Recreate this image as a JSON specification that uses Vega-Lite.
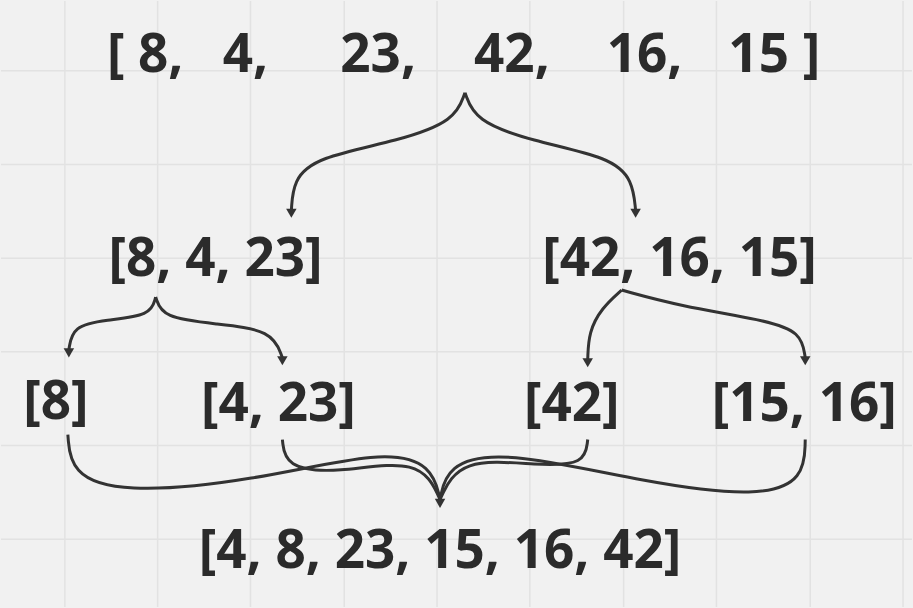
{
  "$schema": "https://vega.github.io/schema/vega-lite/v6.json",
  "autosize": {"type": "fit", "contains": "padding"},
  "width": 913,
  "height": 608,
  "padding": 0,
  "background": "#f1f1f1",
  "config": {"view": {"stroke": null}},
  "datasets": {
    "vgrid": [{"x": 64}, {"x": 157}, {"x": 250}, {"x": 344}, {"x": 437}, {"x": 530}, {"x": 624}, {"x": 717}, {"x": 811}, {"x": 904}],
    "hgrid": [{"y": 70}, {"y": 164}, {"y": 258}, {"y": 352}, {"y": 446}, {"y": 540}],
    "labels": [
      {"t": "[", "x": 115, "y": 55},
      {"t": "8,", "x": 160, "y": 55},
      {"t": "4,", "x": 245, "y": 55},
      {"t": "23,", "x": 378, "y": 55},
      {"t": "42,", "x": 512, "y": 55},
      {"t": "16,", "x": 645, "y": 55},
      {"t": "15 ]", "x": 775, "y": 55},
      {"t": "[8, 4, 23]", "x": 215, "y": 260},
      {"t": "[42, 16, 15]", "x": 680, "y": 260},
      {"t": "[8]", "x": 55, "y": 403},
      {"t": "[4, 23]", "x": 278, "y": 405},
      {"t": "[42]", "x": 572, "y": 405},
      {"t": "[15, 16]", "x": 805, "y": 405},
      {"t": "[4, 8, 23, 15, 16, 42]", "x": 440, "y": 553}
    ],
    "curves": [
      {"id": 1, "o": 1, "x": 465, "y": 92}, {"id": 1, "o": 2, "x": 455, "y": 120}, {"id": 1, "o": 3, "x": 400, "y": 140}, {"id": 1, "o": 4, "x": 315, "y": 157}, {"id": 1, "o": 5, "x": 293, "y": 180}, {"id": 1, "o": 6, "x": 291, "y": 210},
      {"id": 2, "o": 1, "x": 465, "y": 92}, {"id": 2, "o": 2, "x": 475, "y": 120}, {"id": 2, "o": 3, "x": 530, "y": 140}, {"id": 2, "o": 4, "x": 612, "y": 157}, {"id": 2, "o": 5, "x": 633, "y": 180}, {"id": 2, "o": 6, "x": 636, "y": 210},
      {"id": 3, "o": 1, "x": 155, "y": 297}, {"id": 3, "o": 2, "x": 150, "y": 316}, {"id": 3, "o": 3, "x": 105, "y": 320}, {"id": 3, "o": 4, "x": 72, "y": 326}, {"id": 3, "o": 5, "x": 68, "y": 350},
      {"id": 4, "o": 1, "x": 155, "y": 297}, {"id": 4, "o": 2, "x": 162, "y": 318}, {"id": 4, "o": 3, "x": 215, "y": 324}, {"id": 4, "o": 4, "x": 272, "y": 330}, {"id": 4, "o": 5, "x": 282, "y": 358},
      {"id": 5, "o": 1, "x": 622, "y": 290}, {"id": 5, "o": 2, "x": 602, "y": 308}, {"id": 5, "o": 3, "x": 589, "y": 332}, {"id": 5, "o": 4, "x": 588, "y": 360},
      {"id": 6, "o": 1, "x": 622, "y": 290}, {"id": 6, "o": 2, "x": 680, "y": 306}, {"id": 6, "o": 3, "x": 765, "y": 320}, {"id": 6, "o": 4, "x": 802, "y": 332}, {"id": 6, "o": 5, "x": 806, "y": 358},
      {"id": 7, "o": 1, "x": 67, "y": 435}, {"id": 7, "o": 2, "x": 70, "y": 474}, {"id": 7, "o": 3, "x": 120, "y": 494}, {"id": 7, "o": 4, "x": 250, "y": 482}, {"id": 7, "o": 5, "x": 385, "y": 450}, {"id": 7, "o": 6, "x": 432, "y": 466}, {"id": 7, "o": 7, "x": 440, "y": 500},
      {"id": 8, "o": 1, "x": 282, "y": 440}, {"id": 8, "o": 2, "x": 285, "y": 468}, {"id": 8, "o": 3, "x": 335, "y": 474}, {"id": 8, "o": 4, "x": 420, "y": 458}, {"id": 8, "o": 5, "x": 440, "y": 500},
      {"id": 9, "o": 1, "x": 588, "y": 440}, {"id": 9, "o": 2, "x": 585, "y": 465}, {"id": 9, "o": 3, "x": 540, "y": 466}, {"id": 9, "o": 4, "x": 460, "y": 458}, {"id": 9, "o": 5, "x": 440, "y": 500},
      {"id": 10, "o": 1, "x": 806, "y": 440}, {"id": 10, "o": 2, "x": 805, "y": 480}, {"id": 10, "o": 3, "x": 760, "y": 498}, {"id": 10, "o": 4, "x": 650, "y": 484}, {"id": 10, "o": 5, "x": 500, "y": 450}, {"id": 10, "o": 6, "x": 447, "y": 466}, {"id": 10, "o": 7, "x": 440, "y": 500}
    ],
    "heads": [{"x": 291, "y": 213}, {"x": 636, "y": 213}, {"x": 68, "y": 353}, {"x": 282, "y": 361}, {"x": 588, "y": 363}, {"x": 806, "y": 361}, {"x": 440, "y": 504}]
  },
  "layer": [
    {
      "data": {"name": "vgrid"},
      "mark": {"type": "rule", "color": "#e2e2e2", "strokeWidth": 1.5},
      "encoding": {"x": {"field": "x", "type": "quantitative", "scale": {"domain": [0, 913]}, "axis": null}}
    },
    {
      "data": {"name": "hgrid"},
      "mark": {"type": "rule", "color": "#e2e2e2", "strokeWidth": 1.5},
      "encoding": {"y": {"field": "y", "type": "quantitative", "scale": {"domain": [0, 608], "reverse": true}, "axis": null}}
    },
    {
      "data": {"name": "curves"},
      "mark": {"type": "line", "interpolate": "basis", "color": "#333333", "strokeWidth": 3},
      "encoding": {
        "x": {"field": "x", "type": "quantitative", "scale": {"domain": [0, 913]}, "axis": null},
        "y": {"field": "y", "type": "quantitative", "scale": {"domain": [0, 608], "reverse": true}, "axis": null},
        "detail": {"field": "id"},
        "order": {"field": "o"}
      }
    },
    {
      "data": {"name": "heads"},
      "mark": {"type": "point", "shape": "triangle-down", "filled": true, "color": "#333333", "size": 110, "opacity": 1},
      "encoding": {
        "x": {"field": "x", "type": "quantitative", "scale": {"domain": [0, 913]}, "axis": null},
        "y": {"field": "y", "type": "quantitative", "scale": {"domain": [0, 608], "reverse": true}, "axis": null}
      }
    },
    {
      "data": {"name": "labels"},
      "mark": {"type": "text", "font": "Open Sans", "fontWeight": "bold", "fontSize": 53, "color": "#2b2b2b", "baseline": "middle", "align": "center"},
      "encoding": {
        "x": {"field": "x", "type": "quantitative", "scale": {"domain": [0, 913]}, "axis": null},
        "y": {"field": "y", "type": "quantitative", "scale": {"domain": [0, 608], "reverse": true}, "axis": null},
        "text": {"field": "t"}
      }
    }
  ]
}
